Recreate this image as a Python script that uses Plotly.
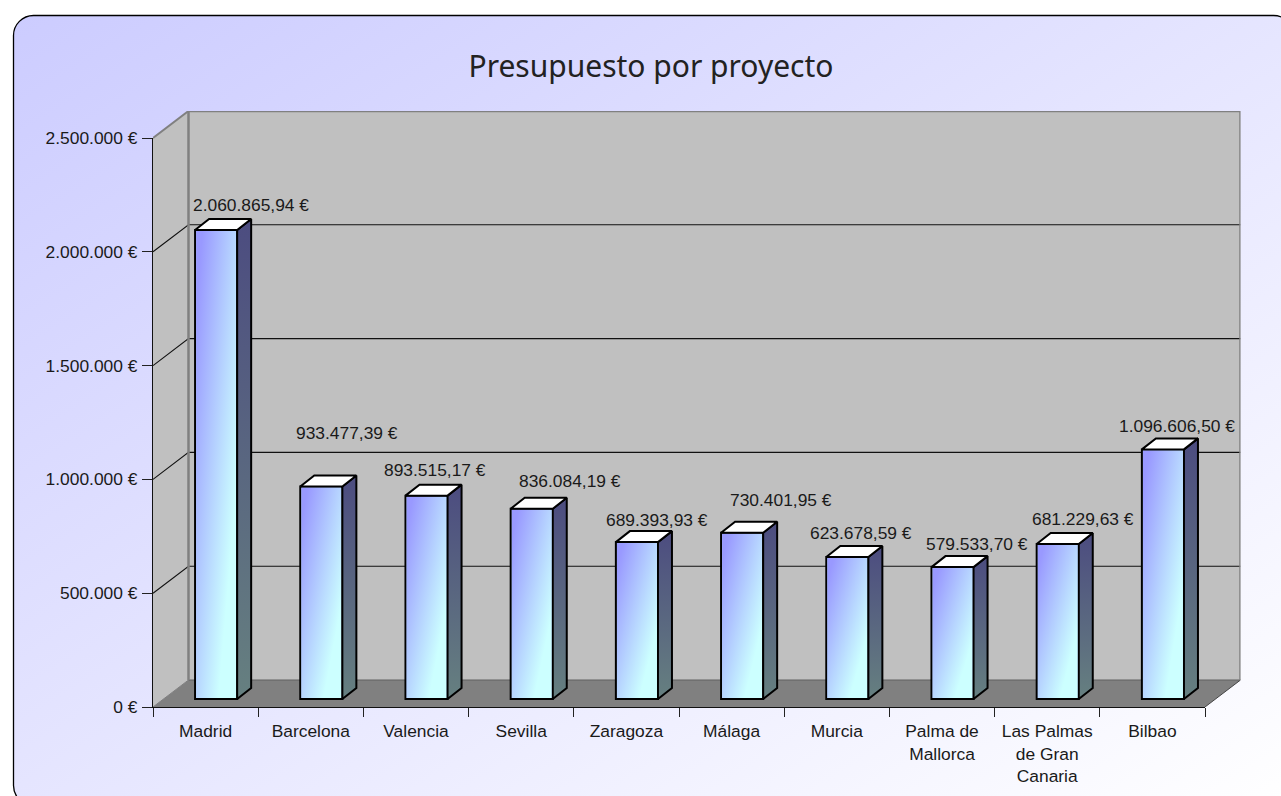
import base64
import plotly.graph_objects as go

# ---------- data ----------
categories = ["Madrid", "Barcelona", "Valencia", "Sevilla", "Zaragoza", "Málaga", "Murcia",
              "Palma de<br>Mallorca", "Las Palmas<br>de Gran<br>Canaria", "Bilbao"]
values = [2060865.94, 933477.39, 893515.17, 836084.19, 689393.93,
          730401.95, 623678.59, 579533.70, 681229.63, 1096606.50]
y_ticks = [0, 500000, 1000000, 1500000, 2000000, 2500000]
y_tick_labels = ["0 €", "500.000 €", "1.000.000 €", "1.500.000 €", "2.000.000 €", "2.500.000 €"]
title_text = "Presupuesto por proyecto"
# manual placement of each data label relative to its bar (pixels)
label_dx = [35, 26, 8, 38, 20, 39, 14, 24, 25, 14]
label_dy = [25, 54, 26, 28, 22, 33, 24, 23, 25, 23]

# ---------- geometry ----------
W, H = 1281, 796
X0, X1, Y0, Y1 = 153, 1205, 707, 138     # axes frame (pixels)
DX_PX, DY_PX = 35.5, 27                  # wall depth
px_x = (X1 - X0) / len(categories)
px_y = (Y0 - Y1) / y_ticks[-1]
dep_x, dep_y = DX_PX / px_x, DY_PX / px_y
wide_x = [-0.5, -0.5 + (X1 + DX_PX - X0) / px_x]
wide_y = [0, (Y0 - Y1 + DY_PX) / px_y]
BAR_L, BAR_W = -0.1, 0.4                 # relative to category centre
BASE = 8 / px_y
SIDE_X, SIDE_Y = 14 / px_x, 11 / px_y
xl, yl = wide_x[0], 0
xr = wide_x[0] + len(categories)
TEXT_SIZE = 17.4


def uri(svg):
    return "data:image/svg+xml;base64," + base64.b64encode(svg.encode()).decode()


bg_svg = f'''<svg xmlns="http://www.w3.org/2000/svg" width="{W}" height="{H}" viewBox="0 0 {W} {H}">
<defs><linearGradient id="g" x1="0" y1="0" x2="1" y2="1">
<stop offset="0" stop-color="#CCCCFF"/><stop offset="1" stop-color="#FFFFFF"/></linearGradient></defs>
<rect x="13.5" y="15.5" width="1280" height="790" rx="20" ry="20" fill="url(#g)" stroke="#000" stroke-width="1.3"/>
</svg>'''
front_svg = '''<svg xmlns="http://www.w3.org/2000/svg" width="100" height="100" viewBox="0 0 100 100" preserveAspectRatio="none">
<defs><linearGradient id="f" x1="0" y1="0" x2="1" y2="1">
<stop offset="0.08" stop-color="#9999FF"/><stop offset="0.78" stop-color="#CCFFFF"/></linearGradient></defs>
<rect width="100" height="100" fill="url(#f)"/></svg>'''

fig = go.Figure()
common = dict(hoverinfo="skip", showlegend=False)


def poly(xs, ys, fill, line=None, lw=0, axes="", **kw):
    fig.add_trace(go.Scatter(x=xs, y=ys, mode="lines" if lw else "none", fill="toself", fillcolor=fill,
                             line=dict(color=line or fill, width=lw or 0),
                             xaxis="x" + axes, yaxis="y" + axes, **common, **kw))


def seg(xs, ys, color, lw):
    fig.add_trace(go.Scatter(x=xs, y=ys, mode="lines", line=dict(color=color, width=lw), **common))


top = y_ticks[-1]
# walls and floor (wide, invisible axes)
poly([xl, xl + dep_x, xl + dep_x, xl], [0, dep_y, top + dep_y, top], "#C0C0C0")
poly([xl + dep_x, xr + dep_x, xr + dep_x, xl + dep_x], [dep_y, dep_y, top + dep_y, top + dep_y], "#C0C0C0")
poly([xl, xr, xr + dep_x, xl + dep_x], [0, 0, dep_y, dep_y], "#808080")
for t in y_ticks[1:-1]:
    seg([xl, xl + dep_x, xr + dep_x], [t, t + dep_y, t + dep_y], "#111111", 1.1)
seg([xl, xl + dep_x], [top, top + dep_y], "#808080", 2)
seg([xl, xl + dep_x], [0, dep_y], "#808080", 1)
seg([xr, xr + dep_x], [0, dep_y], "#444444", 1)
seg([xl + dep_x, xr + dep_x], [dep_y, dep_y], "#606060", 1)
seg([xl + dep_x, xl + dep_x, xr + dep_x, xr + dep_x], [dep_y, top + dep_y, top + dep_y, dep_y], "#808080", 2.5)

# front faces: real bars on the visible category axes
fig.add_trace(go.Bar(x=categories, y=values, base=[BASE] * len(values), offset=BAR_L, width=BAR_W,
                     marker=dict(color="#B3CCFF", line=dict(color="#000000", width=2)),
                     xaxis="x2", yaxis="y2", **common))

images = [dict(source=uri(bg_svg), xref="paper", yref="paper", x=0, y=1, sizex=1, sizey=1,
               xanchor="left", yanchor="top", sizing="stretch", layer="below")]
annotations = []
for i, v in enumerate(values):
    x0 = i + BAR_L
    x1 = x0 + BAR_W
    b = BASE
    t = BASE + v
    poly([x1, x1 + SIDE_X, x1 + SIDE_X, x1, x1], [t, t + SIDE_Y, b + SIDE_Y, b, t], "#5A6080", "#000000", 2, "3",
         fillgradient=dict(type="vertical", colorscale=[[0, "#668080"], [1, "#4C4C80"]]))
    poly([x0, x1, x1 + SIDE_X, x0 + SIDE_X, x0], [t, t, t + SIDE_Y, t + SIDE_Y, t], "#FFFFFF", "#000000", 2, "3")
    images.append(dict(source=uri(front_svg), xref="x3", yref="y3", x=x0 + 1 / px_x, y=b + 1 / px_y,
                       sizex=BAR_W - 2 / px_x, sizey=v - 2 / px_y, xanchor="left", yanchor="bottom",
                       sizing="stretch", layer="above"))
    label = f"{v:,.2f}".replace(",", "#").replace(".", ",").replace("#", ".") + " €"
    annotations.append(dict(x=x0 + BAR_W / 2 + 1e-9, y=t, xref="x3", yref="y3", text=label, showarrow=False,
                            xanchor="center", yanchor="middle", xshift=label_dx[i], yshift=label_dy[i],
                            font=dict(family="Liberation Sans", size=TEXT_SIZE, color="#1A1A1A")))

hidden = dict(visible=False, fixedrange=True, automargin=False)
dom_wide_x = [X0 / W, (X1 + DX_PX) / W]
dom_wide_y = [(H - Y0) / H, (H - Y1 + DY_PX) / H]
fig.update_layout(
    width=W, height=H, margin=dict(l=0, r=0, t=0, b=0, autoexpand=False),
    paper_bgcolor="#FFFFFF", plot_bgcolor="rgba(0,0,0,0)", showlegend=False,
    images=images, annotations=annotations,
    title=dict(text=title_text, x=651 / W, xanchor="center", y=1 - 66 / H, yanchor="middle",
               font=dict(family="Noto Sans", size=30, color="#222222")),
    font=dict(family="Liberation Sans", size=TEXT_SIZE, color="#1A1A1A"),
    xaxis=dict(domain=dom_wide_x, range=wide_x, anchor="y", **hidden),
    yaxis=dict(domain=dom_wide_y, range=wide_y, anchor="x", **hidden),
    xaxis3=dict(domain=dom_wide_x, range=wide_x, anchor="y3", **hidden),
    yaxis3=dict(domain=dom_wide_y, range=wide_y, anchor="x3", **hidden),
    xaxis2=dict(domain=[X0 / W, X1 / W], anchor="y2", type="category", categoryorder="array",
                categoryarray=categories, tickson="boundaries", ticks="outside", ticklen=9,
                tickcolor="#222222", tickwidth=1.2, showgrid=False, zeroline=False, showline=True,
                linecolor="#111111", linewidth=1.2, range=[-0.5, len(categories) - 0.5], fixedrange=True,
                tickangle=0, ticklabelstandoff=8, automargin=False),
    yaxis2=dict(domain=[(H - Y0) / H, (H - Y1) / H], anchor="x2", range=[0, top], tickvals=y_ticks,
                ticktext=y_tick_labels, ticks="outside", ticklen=10, tickcolor="#222222", tickwidth=1.2,
                showgrid=False, zeroline=False, showline=True, linecolor="#111111", linewidth=1.2,
                ticklabelstandoff=1, fixedrange=True, automargin=False),
)
fig.write_html("out.html", post_script="document.body.style.margin='0';document.body.style.overflow='hidden';",
               config=dict(displayModeBar=False))
